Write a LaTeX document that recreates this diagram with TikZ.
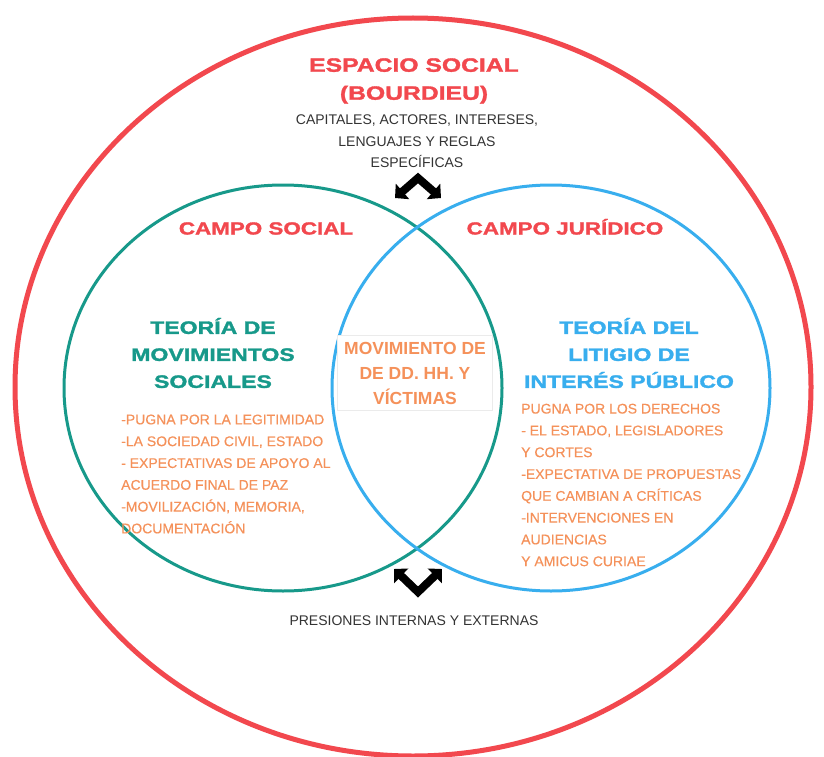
\documentclass[tikz,border=0pt]{standalone}
\usepackage{fontspec}
\setmainfont{Liberation Sans}
\newfontfamily\widefont{Liberation Sans Bold}[FakeStretch=1.28, FakeBold=1.6]
\newfontfamily\listfont{Liberation Sans}[FakeBold=0.35]
\usetikzlibrary{arrows.meta, positioning, shapes.geometric}

\definecolor{espred}{HTML}{F2484E}
\definecolor{socteal}{HTML}{17998A}
\definecolor{jurblue}{HTML}{38AEEE}
\definecolor{listorange}{HTML}{F5915A}
\definecolor{notegray}{HTML}{333333}

\tikzset{
  ring/.style={ellipse, draw, inner sep=0pt},
  titletxt/.style={font=\widefont\fontsize{19.3}{28}\selectfont, text=espred, align=center, inner sep=0pt},
  campotxt/.style={font=\widefont\fontsize{17.5}{21}\selectfont, text=espred, inner sep=0pt},
  theorytxt/.style={font=\widefont\fontsize{18}{27}\selectfont, align=center, inner sep=0pt},
  notetxt/.style={font=\fontsize{14}{21.5}\selectfont, text=notegray, align=center, inner sep=0pt},
  listtxt/.style={font=\listfont\fontsize{14}{21.8}\selectfont, text=listorange, align=left, anchor=west, inner sep=0pt},
  centerbox/.style={font=\bfseries\fontsize{17.5}{25}\selectfont, text=listorange, align=center, draw=black!8, fill=white, minimum width=155pt, minimum height=75pt},
  swapicon/.style={line width=8pt, line join=miter, {Triangle[length=10pt,width=20pt]}-{Triangle[length=10pt,width=20pt]}}
}

\begin{document}
\begin{tikzpicture}[x=1pt, y=-1pt]
    \useasboundingbox[fill=white] (0,0) rectangle (824,757);

    % rings
    \node[ring, draw=espred, line width=5pt, minimum width=796pt, minimum height=738pt] (espacio) at (413,387) {};
    \node[ring, draw=socteal, line width=3pt, minimum width=438pt, minimum height=406pt] (social) at (283,388) {};
    \node[ring, draw=jurblue, line width=3pt, minimum width=438pt, minimum height=406pt] (juridico) at (551,388) {};

    % outer field
    \node[titletxt] (espacio-t) at (414,81) {ESPACIO SOCIAL\\(BOURDIEU)};
    \node[notetxt] (capitales) at (417,141.5) {CAPITALES, ACTORES, INTERESES,\\LENGUAJES Y REGLAS\\ESPECÍFICAS};

    % the two fields
    \node[campotxt, anchor=base] (campo-s) at (266,234.5) {CAMPO SOCIAL};
    \node[campotxt, anchor=base] (campo-j) at (565,234.5) {CAMPO JURÍDICO};
    \node[theorytxt, text=socteal] (teoria-s) at (213,353) {TEORÍA DE\\MOVIMIENTOS\\SOCIALES};
    \node[theorytxt, text=jurblue] (teoria-j) at (629,353) {TEORÍA DEL\\LITIGIO DE\\INTERÉS PÚBLICO};
    \node[centerbox] (ddhh) at (415,373) {MOVIMIENTO DE\\DE DD. HH. Y\\VÍCTIMAS};

    \node[listtxt] (lista-s) at (121,474) {-PUGNA POR LA LEGITIMIDAD\\-LA SOCIEDAD CIVIL, ESTADO\\- EXPECTATIVAS DE APOYO AL\\ACUERDO FINAL DE PAZ\\-MOVILIZACIÓN, MEMORIA,\\DOCUMENTACIÓN};
    \node[listtxt] (lista-j) at (521,485) {PUGNA POR LOS DERECHOS\\- EL ESTADO, LEGISLADORES\\Y CORTES\\-EXPECTATIVA DE PROPUESTAS\\QUE CAMBIAN A CRÍTICAS\\-INTERVENCIONES EN\\AUDIENCIAS\\Y AMICUS CURIAE};

    \node[notetxt, anchor=base] (presiones) at (414,625) {PRESIONES INTERNAS Y EXTERNAS};

    % split arrows
    \coordinate (upL) at (395,198);
    \coordinate (upT) at (418,178);
    \coordinate (upR) at (441,198);
    \draw[swapicon] (upL) -- (upT) -- (upR);

    \coordinate (dnL) at (394,569);
    \coordinate (dnB) at (418,592);
    \coordinate (dnR) at (442,569);
    \draw[swapicon] (dnL) -- (dnB) -- (dnR);
\end{tikzpicture}
\end{document}
